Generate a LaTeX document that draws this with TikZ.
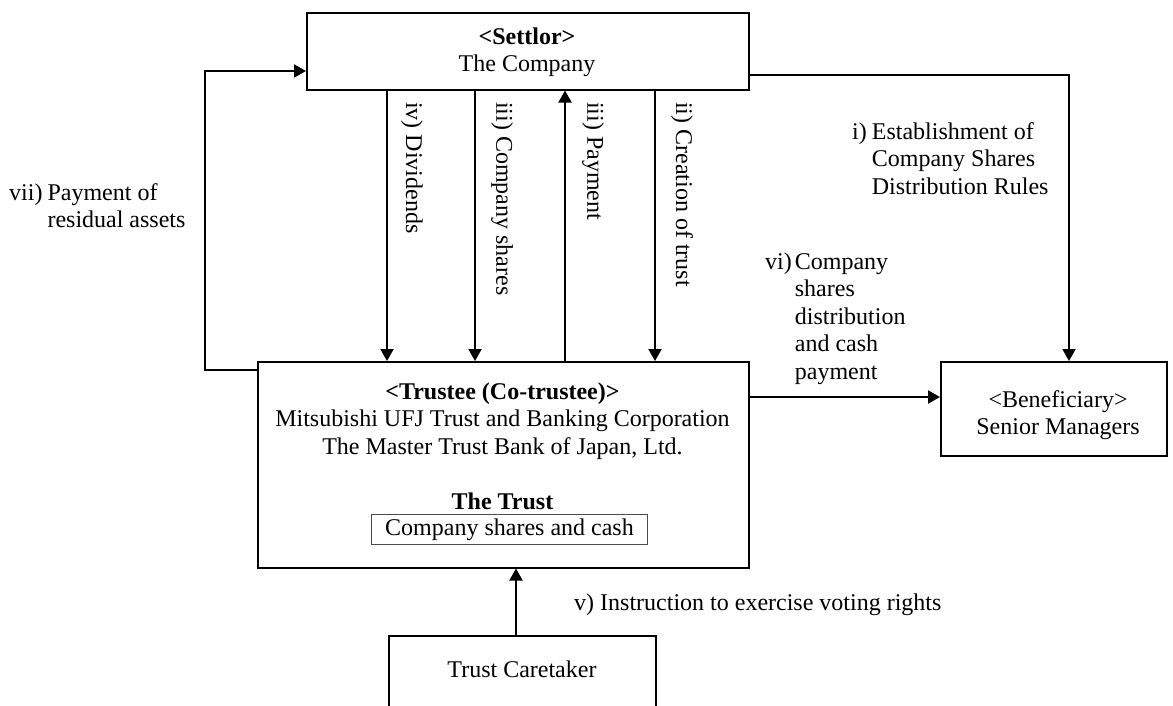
\documentclass[tikz,border=0pt]{standalone}
\usepackage{fontspec}
\setmainfont{Liberation Serif}
\usetikzlibrary{arrows.meta}
\begin{document}
\begin{tikzpicture}[x=1pt,y=-1pt,
  box/.style={draw, line width=1.5pt, inner sep=0pt, anchor=north west},
  arr/.style={line width=2pt, -{Triangle[length=12pt,width=13pt]}},
  lbl/.style={inner sep=0pt, font=\fontsize{24}{27.5}\selectfont},
  vlbl/.style={lbl, rotate=-90, anchor=west},
]
\useasboundingbox (0,0) rectangle (1173,705);

% boxes
\node[box, minimum width=442pt, minimum height=77pt] (settlor) at (306,12) {};
\node[box, minimum width=491pt, minimum height=206pt] (trustee) at (257,361) {};
\node[box, minimum width=226pt, minimum height=94pt] (ben) at (940,361) {};
\node[box, minimum width=267pt, minimum height=90pt] (care) at (388,635) {};
\node[draw=black!70, line width=1pt, inner sep=0pt, anchor=north west,
      minimum width=276pt, minimum height=30pt, lbl] (hold) at (371,514) {Company shares and cash};

% box texts
\node[lbl, anchor=base] (settlorT) at (527,44)
  {\begin{tabular}[t]{@{}c@{}}\textbf{<Settlor>}\\The Company\end{tabular}};
\node[lbl, anchor=base] (trusteeT) at (502.5,399)
  {\begin{tabular}[t]{@{}c@{}}\textbf{<Trustee (Co-trustee)>}\\Mitsubishi UFJ Trust and Banking Corporation\\The Master Trust Bank of Japan, Ltd.\\ \\\textbf{The Trust}\end{tabular}};
\node[lbl, anchor=base] (benT) at (1058,407)
  {\begin{tabular}[t]{@{}c@{}}<Beneficiary>\\Senior Managers\end{tabular}};
\node[lbl, anchor=base] (careT) at (522,677) {Trust Caretaker};

% connectors
\coordinate (xiv) at (387,0);
\coordinate (xiiia) at (475,0);
\coordinate (xiiib) at (565,0);
\coordinate (xii) at (655,0);
\draw[arr] (settlor.south -| xiv) -- (trustee.north -| xiv);
\draw[arr] (settlor.south -| xiiia) -- (trustee.north -| xiiia);
\draw[arr] (trustee.north -| xiiib) -- (settlor.south -| xiiib);
\draw[arr] (settlor.south -| xii) -- (trustee.north -| xii);

\coordinate (loopB) at (205,370);
\coordinate (loopT) at (205,71);
\draw[arr] (loopB -| trustee.west) -- (loopB) -- (loopT) -- (loopT -| settlor.west);

\coordinate (rc) at (1069,75);
\draw[arr] (rc -| settlor.east) -- (rc) -- (rc |- ben.north);

\coordinate (vy) at (0,397);
\draw[arr] (vy -| trustee.east) -- (vy -| ben.west);

\coordinate (vx) at (516,0);
\draw[arr] (care.north -| vx) -- (trustee.south -| vx);

% vertical labels
\node[vlbl] (lIV) at (412,102) {iv) Dividends};
\node[vlbl] (lIIIa) at (502,102) {iii) Company shares};
\node[vlbl] (lIIIb) at (593,102) {iii) Payment};
\node[vlbl] (lII) at (682,102) {ii) Creation of trust};

% other labels
\node[lbl, anchor=base west] (lI) at (852,139)
  {\begin{tabular}[t]{@{}l@{\hspace{5pt}}l@{}}i)&Establishment of\\&Company Shares\\&Distribution Rules\end{tabular}};
\node[lbl, anchor=base west] (lVI) at (765,269)
  {\begin{tabular}[t]{@{}l@{\hspace{3pt}}l@{}}vi)&Company\\&shares\\&distribution\\&and cash\\&payment\end{tabular}};
\node[lbl, anchor=base west] (lVII) at (9,200)
  {\begin{tabular}[t]{@{}l@{\hspace{5pt}}l@{}}vii)&Payment of\\&residual assets\end{tabular}};
\node[lbl, anchor=base west] (lV) at (574,610) {v) Instruction to exercise voting rights};
\end{tikzpicture}
\end{document}
